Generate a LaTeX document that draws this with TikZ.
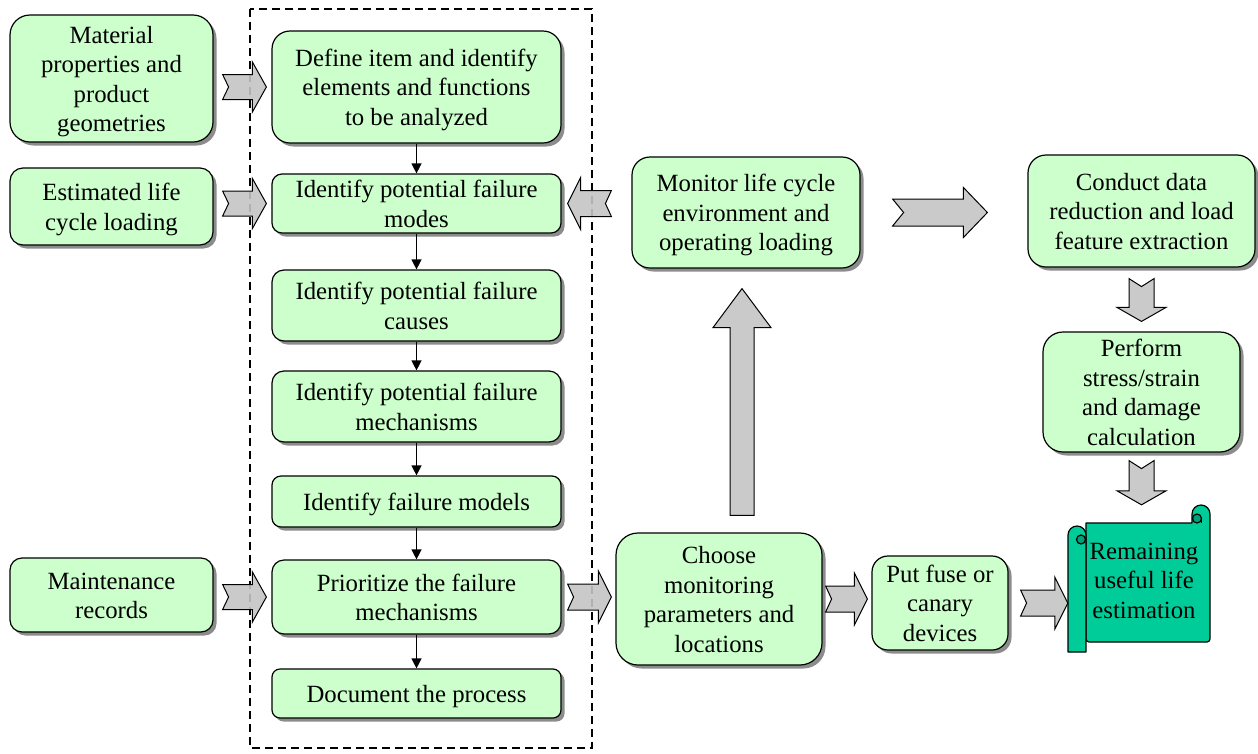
\documentclass[tikz,border=0pt]{standalone}
\usepackage{fontspec}
\setmainfont{Liberation Serif}
\usetikzlibrary{arrows.meta,shadows,calc}
\definecolor{boxgreen}{HTML}{CCFFCC}
\definecolor{scrollteal}{HTML}{00CC99}
\definecolor{scrolldark}{HTML}{00A07A}
\definecolor{arrowgray}{HTML}{C4C4C4}
% centred multi-line text, lowered a little without changing the box
\newcommand\bt[1]{\raisebox{-3pt}[\height][\depth]{\begin{tabular}{@{}c@{}}#1\end{tabular}}}
\tikzset{
  box/.style={draw=black, line width=1.2pt, fill=boxgreen, inner sep=0pt,
    font=\fontsize{24.75}{29.5}\selectfont,
    drop shadow={shadow xshift=3.5pt, shadow yshift=-3.5pt, fill=black, opacity=0.45}},
  flow/.style={line width=1.3pt, -{Triangle[length=10pt,width=10pt]}},
  barrow/.style={draw=black, line width=1pt, fill=arrowgray, fill opacity=0.9, line join=miter},
  frame/.style={draw=black, line width=1.8pt, dash pattern=on 8pt off 5pt},
  scroll/.style={draw=black, line width=1.2pt, fill=scrollteal, line join=round},
  scrolltext/.style={inner sep=0pt, font=\fontsize{24.75}{29.5}\selectfont},
}
% horizontal block arrow: start, end, shaft half, head half, head length, notch
\newcommand\harr[6]{\path[barrow] let \p1=(#1), \p2=(#2), \n1={sign(\x2-\x1)} in
  (\x1,\y1+#3) -- ({\x2-(\n1)*(#5)},\y1+#3) -- ({\x2-(\n1)*(#5)},\y1+#4) -- (\x2,\y1)
  -- ({\x2-(\n1)*(#5)},\y1-#4) -- ({\x2-(\n1)*(#5)},\y1-#3) -- (\x1,\y1-#3)
  -- ({\x1+(\n1)*(#6)},\y1) -- cycle;}
% vertical block arrow
\newcommand\varr[6]{\path[barrow] let \p1=(#1), \p2=(#2), \n1={sign(\y2-\y1)} in
  (\x1+#3,\y1) -- (\x1+#3,{\y2-(\n1)*(#5)}) -- (\x1+#4,{\y2-(\n1)*(#5)}) -- (\x1,\y2)
  -- (\x1-#4,{\y2-(\n1)*(#5)}) -- (\x1-#3,{\y2-(\n1)*(#5)}) -- (\x1-#3,\y1)
  -- (\x1,{\y1+(\n1)*(#6)}) -- cycle;}
\begin{document}
\begin{tikzpicture}[x=1pt,y=-1pt]
\useasboundingbox (0,0) rectangle (1258,753);

% dashed frame
\draw[frame] (250,9) rectangle (592,748);

% left inputs
\node[box, minimum width=203pt, minimum height=127pt, rounded corners=20pt] (mat) at (111.5,78.5) {\bt{Material\\properties and\\product\\geometries}};
\node[box, minimum width=203pt, minimum height=77pt, rounded corners=13pt] (est) at (111.5,206.5) {\bt{Estimated life\\cycle loading}};
\node[box, minimum width=203pt, minimum height=74pt, rounded corners=12pt] (mnt) at (111.5,595) {\bt{Maintenance\\records}};

% middle column
\node[box, minimum width=289pt, minimum height=112pt, rounded corners=18pt] (def) at (416.5,87) {\bt{Define item and identify\\elements and functions\\to be analyzed}};
\node[box, minimum width=289pt, minimum height=59pt, rounded corners=10pt] (mod) at (416.5,203.5) {\bt{Identify potential failure\\modes}};
\node[box, minimum width=289pt, minimum height=71pt, rounded corners=12pt] (cau) at (416.5,305.5) {\bt{Identify potential failure\\causes}};
\node[box, minimum width=289pt, minimum height=71pt, rounded corners=12pt] (mec) at (416.5,406.5) {\bt{Identify potential failure\\mechanisms}};
\node[box, minimum width=289pt, minimum height=51pt, rounded corners=9pt] (fmo) at (416.5,501.5) {\bt{Identify failure models}};
\node[box, minimum width=289pt, minimum height=74pt, rounded corners=12pt] (pri) at (416.5,597) {\bt{Prioritize the failure\\mechanisms}};
\node[box, minimum width=289pt, minimum height=49pt, rounded corners=8pt] (doc) at (416.5,693.5) {\bt{Document the process}};

% right part
\node[box, minimum width=228pt, minimum height=111pt, rounded corners=18pt] (mon) at (746,212.5) {\bt{Monitor life cycle\\environment and\\operating loading}};
\node[box, minimum width=227pt, minimum height=112pt, rounded corners=18pt] (con) at (1141.5,211) {\bt{Conduct data\\reduction and load\\feature extraction}};
\node[box, minimum width=197pt, minimum height=120pt, rounded corners=20pt] (per) at (1141.5,392) {\bt{Perform\\stress/strain\\and damage\\calculation}};
\node[box, minimum width=206pt, minimum height=132pt, rounded corners=22pt] (cho) at (719,599) {\bt{Choose\\monitoring\\parameters and\\locations}};
\node[box, minimum width=136pt, minimum height=94pt, rounded corners=16pt] (fus) at (940,603) {\bt{Put fuse or\\canary\\devices}};

% scroll shape
\path[scroll] (1086,523) -- (1192,523) -- (1192,514) arc[start angle=180,end angle=0,radius=9pt]
  -- (1210,638) [rounded corners=3pt] -- (1210,642) -- (1086,642) [sharp corners] -- cycle;
\path[scroll, fill=scrolldark] (1197,518.5) circle[radius=4.5pt];
\draw[line width=1.2pt] (1201.5,518.5) -- (1201.5,523);
\path[scroll] (1086,652) -- (1068,652) -- (1068,535) arc[start angle=180,end angle=0,radius=9pt] -- cycle;
\path[scroll, fill=scrolldark] (1081,539.5) circle[radius=4.5pt];
\node[scrolltext, minimum width=146pt, minimum height=148pt] (rul) at (1144,580) {\bt{Remaining\\useful life\\estimation}};

% flow arrows in the middle column
\draw[flow] (def) -- (mod);
\draw[flow] (mod) -- (cau);
\draw[flow] (cau) -- (mec);
\draw[flow] (mec) -- (fmo);
\draw[flow] (fmo) -- (pri);
\draw[flow] (pri) -- (doc);

% block arrows
\harr{$(mat.east|-def.center)+(9,0)$}{$(def.west)+(-5,0)$}{12.5}{25}{14}{6}
\harr{$(est.east|-mod.center)+(9,0)$}{$(mod.west)+(-5,0)$}{12.5}{25}{14}{6}
\harr{$(mnt.east|-pri.center)+(9,0)$}{$(pri.west)+(-5,0)$}{12.5}{25}{14}{6}
\harr{$(mon.west|-mod.center)+(-20,0)$}{$(mod.east)+(6,0)$}{13}{26}{13}{6}
\harr{$(pri.east)+(6,0)$}{$(cho.west|-pri.east)+(-4,0)$}{13}{26}{13}{6}
\harr{$(cho.east)+(3,0)$}{$(fus.west|-cho.east)+(-4,0)$}{13}{26}{13}{6}
\harr{$(fus.east)+(12,0)$}{$(rul.west|-fus.east)+(-3,0)$}{13}{26}{13}{6}
\harr{$(mon.east)+(32,0)$}{$(con.west|-mon.east)+(-40,0)$}{13.5}{25}{24}{11}
\varr{$(con.south)+(0,11)$}{$(per.north)+(0,-10)$}{12.5}{24.5}{14}{8}
\varr{$(per.south)+(0,8)$}{$(per.south|-rul.north)+(0,-1)$}{12.5}{24.5}{14}{8}
\varr{$(mon.south|-cho.north)+(-4,-17)$}{$(mon.south)+(-4,20)$}{12}{29}{39}{0}
\end{tikzpicture}
\end{document}
